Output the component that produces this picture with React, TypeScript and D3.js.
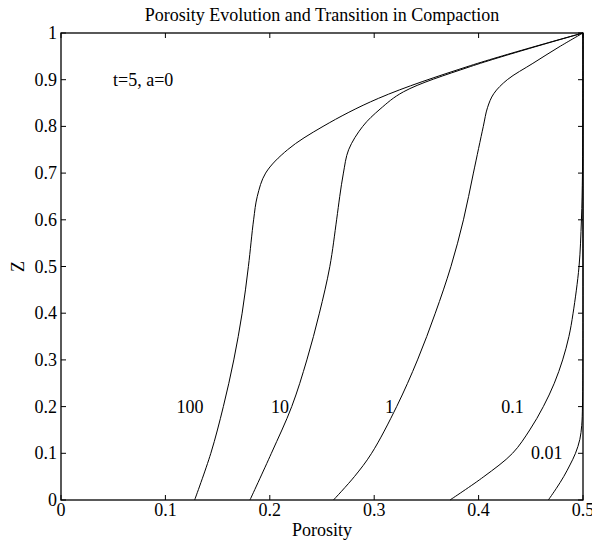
import React from "react";
import * as d3 from "d3";

const W = 592;
const H = 541;
const M = { left: 61, right: 583, top: 33, bottom: 500 };

const TITLE = "Porosity Evolution and Transition in Compaction";
const X_LABEL = "Porosity";
const Y_LABEL = "Z";
const NOTE = "t=5, a=0";

const xTicks = [0, 0.1, 0.2, 0.3, 0.4, 0.5];
const yTicks = [0, 0.1, 0.2, 0.3, 0.4, 0.5, 0.6, 0.7, 0.8, 0.9, 1];

// Series: porosity (phi) vs depth coordinate (z)
const phi100 = [0.128, 0.1435, 0.1555, 0.1655, 0.1735, 0.1795, 0.1845, 0.188, 0.196, 0.217, 0.251, 0.304, 0.392, 0.5];
const z100 = [0, 0.1, 0.2, 0.3, 0.4, 0.5, 0.6, 0.65, 0.7, 0.75, 0.8, 0.86, 0.93, 1];

const phi10 = [0.181, 0.2015, 0.221, 0.2355, 0.2475, 0.2575, 0.264, 0.267, 0.2705, 0.2755, 0.289, 0.3056, 0.328, 0.392, 0.5];
const z10 = [0, 0.1, 0.2, 0.3, 0.4, 0.5, 0.6, 0.65, 0.7, 0.75, 0.8, 0.837, 0.874, 0.928, 1];

const phi1 = [0.261, 0.281, 0.2975, 0.3215, 0.3415, 0.3585, 0.3735, 0.3855, 0.395, 0.4045, 0.4085, 0.4145, 0.4275, 0.452, 0.477, 0.5];
const z1 = [0, 0.05, 0.1, 0.2, 0.3, 0.4, 0.5, 0.6, 0.7, 0.8, 0.84, 0.87, 0.9, 0.935, 0.97, 1];

const phi01 = [0.3726, 0.405, 0.4325, 0.449, 0.462, 0.4725, 0.4805, 0.4865, 0.4905, 0.4962, 0.4985, 0.4995, 0.4999, 0.5];
const z01 = [0, 0.05, 0.1, 0.15, 0.2, 0.25, 0.3, 0.35, 0.4, 0.5, 0.6, 0.7, 0.85, 1];

const phi001 = [0.4668, 0.4745, 0.4815, 0.4875, 0.4928, 0.497, 0.4988, 0.4995, 0.4999, 0.5, 0.5];
const z001 = [0, 0.025, 0.05, 0.075, 0.1, 0.13, 0.16, 0.2, 0.3, 0.6, 1];

const seriesPhi = [phi100, phi10, phi1, phi01, phi001];
const seriesZ = [z100, z10, z1, z01, z001];

const labelText = ["100", "10", "1", "0.1", "0.01"];
const labelPhi = [0.1236, 0.2098, 0.3147, 0.4325, 0.4652];
const labelZ = [0.2, 0.2, 0.2, 0.2, 0.1];

const FONT = "'Liberation Serif', 'Times New Roman', serif";
const FS = 18;

export default function App() {
  const x = d3.scaleLinear().domain([0, 0.5]).range([M.left, M.right]);
  const y = d3.scaleLinear().domain([0, 1]).range([M.bottom, M.top]);

  const line = d3
    .line<[number, number]>()
    .x((d) => x(d[0]))
    .y((d) => y(d[1]))
    .curve(d3.curveCatmullRom.alpha(0.5));

  const tickLen = 5;

  return (
    <svg
      width={W}
      height={H}
      style={{ position: "absolute", left: 0, top: 0, background: "#fff" }}
      fontFamily={FONT}
    >
      <rect x={0} y={0} width={W} height={H} fill="#fff" />
      <defs>
        <clipPath id="plotclip">
          <rect x={M.left} y={M.top - 1} width={M.right - M.left + 1} height={M.bottom - M.top + 2} />
        </clipPath>
      </defs>

      {/* curves */}
      <g clipPath="url(#plotclip)">
        {seriesPhi.map((ph, i) => {
          const pts: [number, number][] = ph.map((p, j) => [p, seriesZ[i][j]]);
          return <path key={i} d={line(pts) || ""} fill="none" stroke="#000" strokeWidth={1} />;
        })}
      </g>

      {/* frame */}
      <rect
        x={M.left}
        y={M.top}
        width={M.right - M.left}
        height={M.bottom - M.top}
        fill="none"
        stroke="#000"
        strokeWidth={1.3}
      />

      {/* x ticks */}
      {xTicks.map((t) => (
        <g key={"x" + t}>
          <line x1={x(t)} x2={x(t)} y1={M.bottom} y2={M.bottom - tickLen} stroke="#000" strokeWidth={1} />
          <line x1={x(t)} x2={x(t)} y1={M.top} y2={M.top + tickLen} stroke="#000" strokeWidth={1} />
          <text x={x(t)} y={M.bottom + 16} textAnchor="middle" fontSize={FS} fill="#000">
            {String(t)}
          </text>
        </g>
      ))}

      {/* y ticks */}
      {yTicks.map((t) => (
        <g key={"y" + t}>
          <line x1={M.left} x2={M.left + tickLen} y1={y(t)} y2={y(t)} stroke="#000" strokeWidth={1} />
          <line x1={M.right} x2={M.right - tickLen} y1={y(t)} y2={y(t)} stroke="#000" strokeWidth={1} />
          <text x={M.left - 4} y={y(t) + 6} textAnchor="end" fontSize={FS} fill="#000">
            {String(t)}
          </text>
        </g>
      ))}

      {/* series labels */}
      {labelText.map((s, i) => (
        <text key={"l" + i} x={x(labelPhi[i])} y={y(labelZ[i]) + 6} textAnchor="middle" fontSize={FS} fill="#000">
          {s}
        </text>
      ))}

      {/* note */}
      <text x={113} y={86} fontSize={FS} fill="#000">
        {NOTE}
      </text>

      {/* title */}
      <text x={(M.left + M.right) / 2} y={21} textAnchor="middle" fontSize={FS} fill="#000">
        {TITLE}
      </text>

      {/* axis labels */}
      <text x={(M.left + M.right) / 2} y={536} textAnchor="middle" fontSize={FS} fill="#000">
        {X_LABEL}
      </text>
      <text
        transform={`translate(${24},${(M.top + M.bottom) / 2}) rotate(-90)`}
        textAnchor="middle"
        fontSize={FS}
        fill="#000"
      >
        {Y_LABEL}
      </text>
    </svg>
  );
}
